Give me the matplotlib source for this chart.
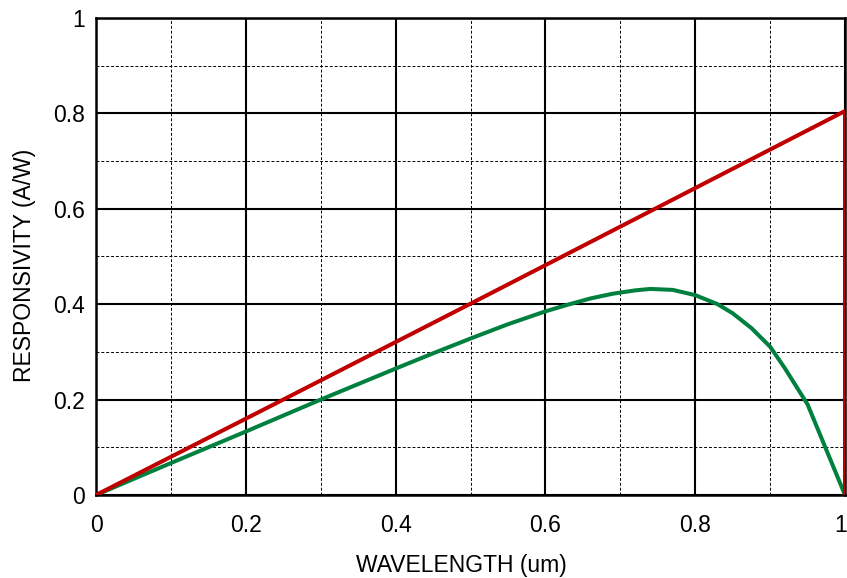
import matplotlib
matplotlib.use('Agg')
import matplotlib.pyplot as plt
import matplotlib.transforms as mtransforms
from matplotlib.ticker import MultipleLocator, FuncFormatter

plt.rcParams['font.family'] = ['Liberation Sans', 'DejaVu Sans']

# red curve (ideal responsivity)
wl_red = [0.0, 0.25, 0.5, 0.75, 1.0, 1.0]
resp_red = [0.0, 0.2, 0.401, 0.603, 0.805, 0.0]

# green curve (actual responsivity)
wl_green = [0.0, 0.1, 0.2, 0.3, 0.4, 0.45, 0.5, 0.55, 0.6, 0.63, 0.66, 0.69,
            0.72, 0.74, 0.77, 0.8, 0.83, 0.85, 0.875, 0.9, 0.92, 0.95, 0.975, 1.0]
resp_green = [0.0, 0.067, 0.133, 0.2, 0.265, 0.297, 0.328, 0.358, 0.385, 0.399,
              0.412, 0.422, 0.429, 0.432, 0.43, 0.419, 0.40, 0.381, 0.35, 0.311,
              0.265, 0.19, 0.095, 0.0]

fs = 16.5

fig = plt.figure(figsize=(8.47, 5.78), dpi=100)
ax = fig.add_axes([96 / 847, 1 - 495 / 578, 749 / 847, 477 / 578])

ax.plot(wl_green, resp_green, color='#00803F', lw=2.9, solid_capstyle='round',
        solid_joinstyle='round', zorder=3)
ax.plot(wl_red, resp_red, color='#C00000', lw=2.9, zorder=4)

ax.set_xlim(0, 1)
ax.set_ylim(0, 1)
ax.xaxis.set_major_locator(MultipleLocator(0.2))
ax.yaxis.set_major_locator(MultipleLocator(0.2))
ax.xaxis.set_minor_locator(MultipleLocator(0.1))
ax.yaxis.set_minor_locator(MultipleLocator(0.1))
# last x label is drawn by hand, slightly nudged so it stays inside the picture
ax.xaxis.set_major_formatter(FuncFormatter(lambda v, p: '' if v > 0.99 else '%g' % v))
ax.yaxis.set_major_formatter(FuncFormatter(lambda v, p: '%g' % v))
ax.grid(which='major', color='black', lw=1.5, ls='-')
ax.grid(which='minor', color='black', lw=0.7, ls=(0, (3, 2)))
ax.tick_params(which='both', length=0, labelsize=fs)
ax.tick_params(axis='x', pad=14)
ax.tick_params(axis='y', pad=8)
for s in ax.spines.values():
    s.set_linewidth(1.8)
ax.set_axisbelow(True)

off = mtransforms.ScaledTranslation(-4 / 100, -14 / 72, fig.dpi_scale_trans)
ax.text(1, 0, '1', fontsize=fs, ha='center', va='top',
        transform=ax.get_xaxis_transform() + off)

ax.set_xlabel('WAVELENGTH (um)', fontsize=fs)
ax.set_ylabel('RESPONSIVITY (A/W)', fontsize=fs)
ax.xaxis.set_label_coords(0.488, -0.147)
ax.yaxis.set_label_coords(-0.095, 0.482)
ax.xaxis.label.set_va('center')
ax.yaxis.label.set_va('center')

fig.savefig('out.png', dpi=100)
